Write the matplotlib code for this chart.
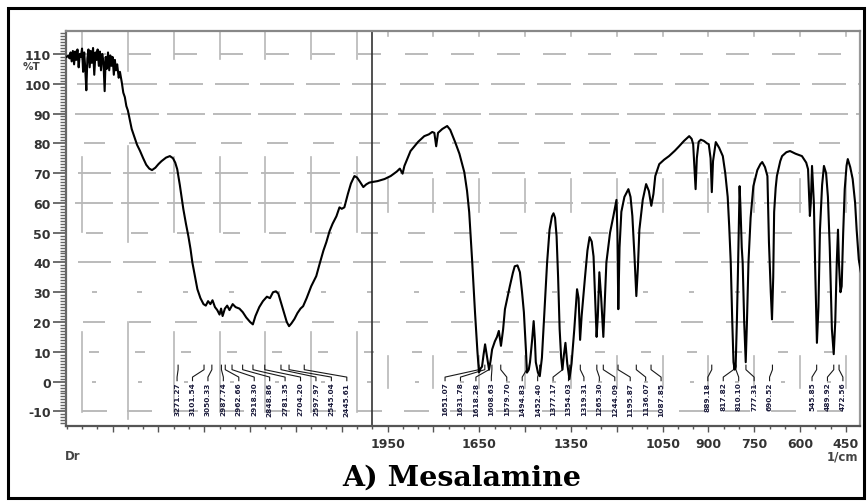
import numpy as np
import matplotlib
matplotlib.use("Agg")
import matplotlib.pyplot as plt
from matplotlib.patches import Rectangle
from matplotlib.ticker import FixedLocator, FixedFormatter

# ---------------- data ----------------
wavenumber = [
    4000, 3990, 3982, 3975, 3968, 3960, 3952, 3945, 3938, 3930, 3922, 3915, 3908, 3900,
    3893, 3886, 3880, 3872, 3865, 3858, 3850, 3843, 3836, 3828, 3820, 3812, 3805, 3798,
    3790, 3783, 3776, 3768, 3760, 3752, 3745, 3738, 3730, 3722, 3715, 3708, 3700, 3692,
    3685, 3678, 3670, 3660, 3652, 3640, 3630, 3620, 3610, 3600, 3590, 3575, 3560, 3540,
    3521, 3500, 3480, 3460, 3442, 3420, 3400, 3380, 3350, 3325, 3305, 3290, 3277, 3260,
    3237, 3220, 3204, 3190, 3178, 3160, 3145, 3125, 3105, 3090, 3075, 3060, 3046, 3030,
    3015, 3000, 2990, 2980, 2965, 2950, 2935, 2914, 2895, 2870, 2848, 2825, 2800, 2782,
    2765, 2740, 2716, 2690, 2670, 2650, 2631, 2615, 2598, 2580, 2560, 2545, 2530, 2510,
    2490, 2470, 2453, 2430, 2400, 2367, 2345, 2320, 2301, 2280, 2260, 2235, 2215, 2200,
    2183, 2160, 2140, 2117, 2100, 2080, 2059, 2040, 2020, 2000,
    1983, 1960, 1940, 1920, 1910, 1901, 1895, 1875, 1850, 1830, 1815, 1804, 1797, 1791,
    1785, 1771, 1760, 1755, 1745, 1729, 1715, 1699, 1690, 1683, 1673, 1664, 1656, 1651,
    1645, 1641, 1636, 1631, 1624, 1618, 1613, 1608, 1599, 1592, 1586, 1579, 1572, 1566,
    1550, 1540, 1534, 1525, 1517, 1510, 1504, 1497, 1494, 1488, 1484, 1477, 1472, 1468,
    1465, 1458, 1452, 1445, 1436, 1428, 1420, 1412, 1407, 1402, 1397, 1392, 1387, 1382,
    1378, 1373, 1368, 1362, 1355, 1348, 1339, 1330, 1325, 1320, 1315, 1304, 1296, 1289,
    1282, 1276, 1271, 1266, 1262, 1257, 1251, 1244, 1240, 1234, 1222, 1211, 1201, 1198,
    1195, 1191, 1185, 1175, 1162, 1155, 1149, 1142, 1136, 1131, 1126, 1115, 1104, 1095,
    1087, 1080, 1074, 1061, 1045, 1029, 1010, 996, 980, 963, 955, 950, 945, 942,
    938, 932, 925, 915, 905, 899, 893, 889, 885, 876, 865, 853, 845, 837,
    832, 827, 822, 818, 814, 811, 807, 804, 800, 798, 795, 791, 788, 783,
    778, 774, 769, 762, 753, 740, 730, 724, 715, 707, 702, 696, 692, 688,
    685, 680, 676, 665, 659, 645, 633, 615, 594, 580, 574, 568, 565, 561,
    555, 550, 545, 540, 535, 528, 522, 515, 509, 503, 496, 490, 485, 480,
    476, 473, 468, 464, 459, 454, 448, 444, 436, 428, 420, 415, 408, 400,
]
transmittance = [
    109.0, 109.5, 108.5, 110.5, 107.5, 111.0, 106.5, 110.8, 108.0, 111.5, 105.5, 110.0, 109.0, 111.8,
    104.0, 110.5, 106.0, 97.8, 108.5, 111.5, 105.5, 111.0, 107.0, 112.0, 103.0, 110.5, 108.0, 111.5,
    106.0, 110.8, 104.5, 110.0, 107.5, 97.5, 109.0, 105.0, 110.5, 104.5, 109.5, 106.0, 109.0, 103.0,
    108.0, 104.5, 106.5, 102.0, 104.0, 100.5, 97.0, 95.5, 92.5, 91.0, 88.5, 84.8, 82.5, 79.5,
    77.5, 75.0, 72.8, 71.5, 71.0, 71.8, 73.0, 74.0, 75.2, 75.7, 75.0, 73.5, 71.3, 66.0,
    57.9, 53.0, 48.8, 44.5, 40.0, 35.0, 31.0, 28.0, 26.0, 25.5, 27.0, 26.0, 27.3, 25.0,
    24.0, 22.5, 24.5, 22.0, 24.5, 25.5, 24.0, 26.0, 25.0, 24.5, 23.3, 21.5, 20.0, 19.2,
    22.0, 25.0, 27.0, 28.5, 28.0, 30.0, 30.3, 29.5, 26.6, 23.5, 20.0, 18.6, 19.5, 21.0,
    23.0, 24.5, 25.3, 28.0, 32.0, 35.4, 39.5, 44.0, 46.8, 50.5, 53.0, 55.5, 58.5, 58.0,
    58.5, 63.0, 66.5, 69.0, 68.5, 67.0, 65.3, 66.2, 66.8, 67.0,
    67.3, 68.0, 69.0, 70.5, 71.5, 69.8, 72.4, 77.4, 80.5, 82.4, 83.0, 83.8, 83.5, 79.0,
    83.5, 84.8, 85.5, 85.8, 84.5, 80.4, 76.5, 70.3, 64.0, 56.9, 40.0, 23.3, 10.0, 3.1,
    4.5, 5.0, 9.0, 12.5, 8.0, 4.0, 7.0, 10.8, 13.5, 15.0, 17.0, 12.0, 17.5, 24.3,
    32.0, 36.5, 38.7, 39.0, 36.7, 30.0, 23.3, 10.0, 3.0, 4.0, 6.5, 14.0, 20.3, 14.0,
    6.5, 3.0, 1.8, 8.0, 25.0, 40.0, 51.0, 55.5, 56.5, 55.0, 48.8, 35.0, 17.6, 8.0,
    4.0, 9.0, 13.0, 6.0, 0.8, 6.0, 17.6, 31.0, 28.0, 14.0, 22.0, 35.0, 44.0, 48.5,
    47.0, 42.0, 28.0, 15.0, 22.0, 36.7, 28.0, 15.0, 25.0, 40.0, 50.0, 55.6, 61.0, 50.0,
    24.3, 45.0, 57.0, 62.0, 64.6, 62.0, 55.6, 42.0, 28.7, 38.0, 51.0, 61.0, 66.3, 64.0,
    59.0, 63.0, 69.0, 73.0, 74.5, 75.7, 77.5, 79.0, 80.8, 82.4, 81.5, 79.7, 70.0, 64.6,
    75.0, 80.5, 81.2, 80.8, 80.0, 79.7, 75.0, 63.6, 74.0, 80.4, 78.5, 75.7, 70.0, 62.0,
    52.0, 40.0, 20.0, 6.5, 4.0, 5.0, 20.0, 34.0, 55.0, 65.6, 58.0, 45.0, 40.0, 20.0,
    6.5, 20.0, 40.0, 55.0, 65.6, 71.0, 73.0, 73.7, 72.0, 69.0, 46.8, 30.0, 20.9, 35.0,
    56.9, 65.0, 69.0, 74.0, 75.7, 77.0, 77.4, 76.5, 75.7, 73.5, 71.3, 55.6, 60.0, 72.4,
    60.0, 35.0, 13.0, 25.0, 51.0, 66.0, 72.4, 70.0, 62.0, 45.0, 17.6, 9.2, 20.0, 40.0,
    51.0, 40.0, 30.0, 32.0, 50.0, 64.6, 72.5, 74.7, 72.0, 68.0, 60.0, 51.0, 41.0, 36.0,
]

peaks_group1 = [3271.27, 3101.54, 3050.33, 2987.74, 2962.66, 2918.30, 2848.86, 2781.35,
                2704.20, 2597.97, 2545.04, 2445.61]
peaks_group2 = [1651.07, 1631.78, 1618.28, 1608.63, 1579.70, 1494.83, 1452.40, 1377.17,
                1354.03, 1319.31, 1265.30, 1244.09, 1195.87, 1136.07, 1087.85]
peaks_group3 = [889.18, 817.82, 810.10, 777.31, 690.52]
peaks_group4 = [545.85, 489.92, 472.56]

yticks = list(range(-10, 111, 10))
xtick_labels = {3600: "3600", 3000: "3000", 2400: "2400", 1950: "1950", 1650: "1650",
                1350: "1350", 1050: "1050", 900: "900", 750: "750", 600: "600", 450: "450"}

# ---------------- scale: 4000-2000 compressed 2x ----------------
def fwd(w):
    w = np.asarray(w, dtype=float)
    return np.where(w > 2000, 2000 + (w - 2000) / 2.0, w)

def inv(u):
    u = np.asarray(u, dtype=float)
    return np.where(u > 2000, 2000 + (u - 2000) * 2.0, u)

W, H = 867, 502
fig = plt.figure(figsize=(W / 100, H / 100), dpi=100)
ax_l, ax_r, ax_t, ax_b = 66, 860, 31.7, 426.5
ax = fig.add_axes([ax_l / W, 1 - ax_b / H, (ax_r - ax_l) / W, (ax_b - ax_t) / H])
ax.set_xscale("function", functions=(fwd, inv))
ax.set_xlim(4005, 404)
ax.set_ylim(-14.75, 117.8)
pxu = (ax_r - ax_l) / (float(fwd(4005)) - float(fwd(404)))  # px per u

GRID = "#b8b8b8"
# horizontal dashed grid
dash_px = {110: 23, 100: 34, 90: 38, 80: 21, 70: 33, 60: 38, 50: 17, 40: 33,
           30: 5, 20: 22, 10: 10, 0: 4, -10: 25}
upper_v = np.arange(2050, 3001, 150)
lower_v = np.arange(300, 1951, 150)
for lvl, lp in dash_px.items():
    half = lp / pxu / 2
    centers = list(upper_v - 12 / pxu) + list(lower_v - 29 / pxu)
    for c in centers:
        ax.plot(inv([c - half, c + half]), [lvl, lvl], color=GRID, lw=1.35,
                solid_capstyle="butt", zorder=1)
# vertical grid segments
for uk in upper_v:
    if uk > 3000:
        continue
    segs = [(108.3, 118), (50.2, 75.5), (-10.3, 16.5)]
    if uk == 2800:
        segs = [(104.3, 118), (46.8, 79), (-12.6, 20)]
    for a, b in segs:
        ax.plot(inv([uk, uk]), [a, b], color=GRID, lw=1.2, zorder=1)
for uk in lower_v:
    if uk < 450:
        continue
    for a, b in [(116, 118), (57, 68), (-2, 8.5)]:
        ax.plot(inv([uk, uk]), [a, b], color=GRID, lw=1.2, zorder=1)

# 2000 divider
ax.axvline(2000, color="#333333", lw=1.2, zorder=2)

# spectrum
ax.plot(wavenumber, transmittance, color="black", lw=1.5, zorder=5)

# peak labels with leader lines
def group(peaks, u_start, step=50.5):
    for i, p in enumerate(peaks):
        lu = u_start - i * step
        lw_ = float(inv(lu))
        ax.plot([lw_, lw_, p, p], [0.3, 1.5, 4.0, 5.5], color="#1a1a1a", lw=0.8, zorder=4)
        ax.text(lw_, 0.0, f"{p:.2f}", rotation=90, ha="center", va="top",
                fontsize=5.3, fontweight="bold", color="#1c1c3c", zorder=4)

group(peaks_group1, 2639)
group(peaks_group2, 1762)
group(peaks_group3, 902)
group(peaks_group4, 561)

# ticks
u_major = np.arange(450, 2951, 150)
u_minor = [u for u in np.arange(400, 3001, 50) if u not in set(u_major)]
maj_w = [float(inv(u)) for u in u_major]
ax.xaxis.set_major_locator(FixedLocator(maj_w))
ax.xaxis.set_major_formatter(FixedFormatter([xtick_labels.get(int(round(w)), "") for w in maj_w]))
ax.xaxis.set_minor_locator(FixedLocator([float(inv(u)) for u in u_minor]))
ax.tick_params(axis="x", which="major", direction="out", length=4, width=1,
               color="#555555", pad=4, labelsize=9, labelcolor="#333333")
ax.tick_params(axis="x", which="minor", direction="out", length=2.5, width=1, color="#555555")
for t in ax.get_xticklabels():
    t.set_fontweight("bold")

ax.yaxis.set_major_locator(FixedLocator(yticks))
ax.yaxis.set_major_formatter(FixedFormatter([str(v) for v in yticks]))
ax.yaxis.set_minor_locator(FixedLocator(list(range(-14, 118))))
ax.tick_params(axis="y", which="major", direction="out", length=9.5, width=1.2,
               color="#555555", pad=1.5, labelsize=9, labelcolor="#333333")
ax.tick_params(axis="y", which="minor", direction="out", length=4.5, width=1, color="#666666")
for t in ax.get_yticklabels():
    t.set_fontweight("bold")

for side, col in [("left", "#666666"), ("top", "#888888"), ("right", "#999999"), ("bottom", "#555555")]:
    ax.spines[side].set_color(col)
    ax.spines[side].set_linewidth(1.6)

# texts
fig.text(40 / W, 1 - 67 / H, "%T", ha="right", va="center", fontsize=7.5,
         fontweight="bold", color="#444444")
fig.text(65 / W, 1 - 457 / H, "Dr", ha="left", va="center", fontsize=8.5,
         fontweight="bold", color="#444444")
fig.text(858 / W, 1 - 457 / H, "1/cm", ha="right", va="center", fontsize=8.5,
         fontweight="bold", color="#444444")
fig.text(462 / W, 1 - 478 / H, "A) Mesalamine", ha="center", va="center",
         fontsize=20.5, fontweight="bold", family="DejaVu Serif", color="black")

# outer frame
fig.patches.append(Rectangle((8 / W, 1 - 499 / H), (864 - 8) / W, (499 - 8.5) / H,
                             transform=fig.transFigure, fill=False, ec="black", lw=2.2))

fig.savefig("out.png", dpi=100)
